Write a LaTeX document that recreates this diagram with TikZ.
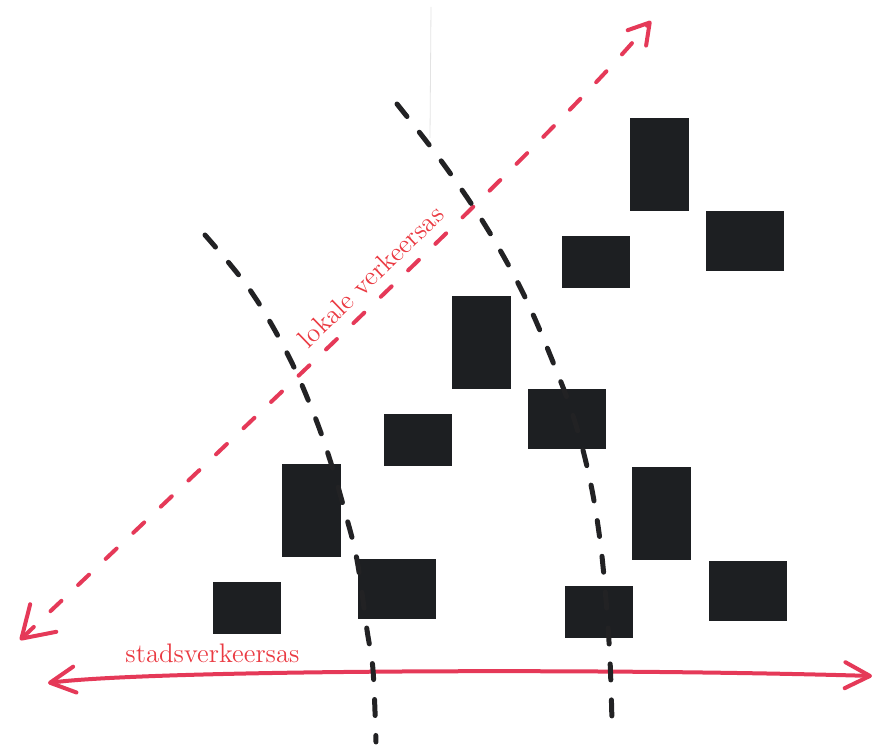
\documentclass[tikz,border=0pt]{standalone}
\usepackage{xcolor}
\usetikzlibrary{arrows.meta}
\definecolor{blokzwart}{RGB}{29,31,34}
\definecolor{stiftzwart}{RGB}{34,34,36}
\definecolor{asrood}{RGB}{229,57,88}
\definecolor{tekstrood}{RGB}{234,58,66}

\begin{document}
\begin{tikzpicture}[
    x=0.5pt, y=-0.5pt,
    every node/.style={font=\fontsize{13.4}{16}\selectfont, inner sep=0pt, outer sep=0pt},
    blok/.style={rectangle, fill=blokzwart},
    hoog/.style={blok, minimum width=29.5pt, minimum height=46.5pt},
    breed/.style={blok, minimum width=39pt, minimum height=30pt},
    klein/.style={blok, minimum width=34pt, minimum height=26pt},
    grens/.style={stiftzwart, line width=2.5pt, line cap=round,
                  dash pattern=on 8pt off 10pt},
    lokaal/.style={asrood, line width=2pt, line cap=round,
                   dash pattern=on 7.5pt off 11.5pt},
    stad/.style={asrood, line width=2pt, line cap=round},
    aslbl/.style={tekstrood, anchor=base},
  ]
    \useasboundingbox (0,0) rectangle (875,747);

    % faint fold line in the scan
    \coordinate (vouwtop) at (431,7);
    \coordinate (vouwbot) at (430,138);
    \draw[gray!22, line width=0.4pt] (vouwtop) -- (vouwbot);

    % building blocks
    \node[hoog]  (b1)  at (659,164.5) {};
    \node[breed] (b2)  at (745,241.5) {};
    \node[klein] (b3)  at (596,262)   {};
    \node[hoog]  (b4)  at (481.5,342.5) {};
    \node[breed] (b5)  at (567,419.5) {};
    \node[klein] (b6)  at (417.5,440) {};
    \node[hoog]  (b7)  at (311.5,511) {};
    \node[hoog]  (b8)  at (661.5,513.5) {};
    \node[breed] (b9)  at (397,589)   {};
    \node[klein] (b10) at (247,608.5) {};
    \node[klein] (b11) at (598.5,612) {};
    \node[breed] (b12) at (748,591)   {};

    % local axis
    \coordinate (lokA) at (20,640);
    \coordinate (lokB) at (651,21);
    \draw[lokaal, {Straight Barb[length=15pt, width=19pt, round]}-{Straight Barb[length=10pt, width=12pt, round]}]
      (lokA) .. controls (300,375) and (560,130) .. (lokB);
    \node[aslbl, rotate=44] (loklbl) at (377,283) {lokale verkeersas};

    % city axis
    \coordinate (stadA) at (48,683);
    \coordinate (stadB) at (872,676);
    \draw[stad, {Straight Barb[length=12.5pt, width=13pt, round]}-{Straight Barb[length=12.5pt, width=13pt, round]}]
      (stadA) .. controls (150,670) and (600,668) .. (stadB);
    \node[aslbl] (stadlbl) at (212.5,663) {stadsverkeersas};

    % district borders
    \coordinate (grensL1) at (205,235);
    \coordinate (grensL2) at (376,742);
    \draw[grens] plot[smooth, tension=0.6] coordinates
      {(grensL1) (250,290) (287,353) (313,412) (330,460) (345,512) (357,560) (367,630) (373,670) (grensL2)};
    \coordinate (grensR1) at (397,104);
    \coordinate (grensR2) at (612,722);
    \draw[grens] plot[smooth, tension=0.6] coordinates
      {(grensR1) (442,162) (485,225) (523,293) (555,367) (575,422) (590,480) (600,540) (606,600) (610,660) (grensR2)};
  \end{tikzpicture}
\end{document}
